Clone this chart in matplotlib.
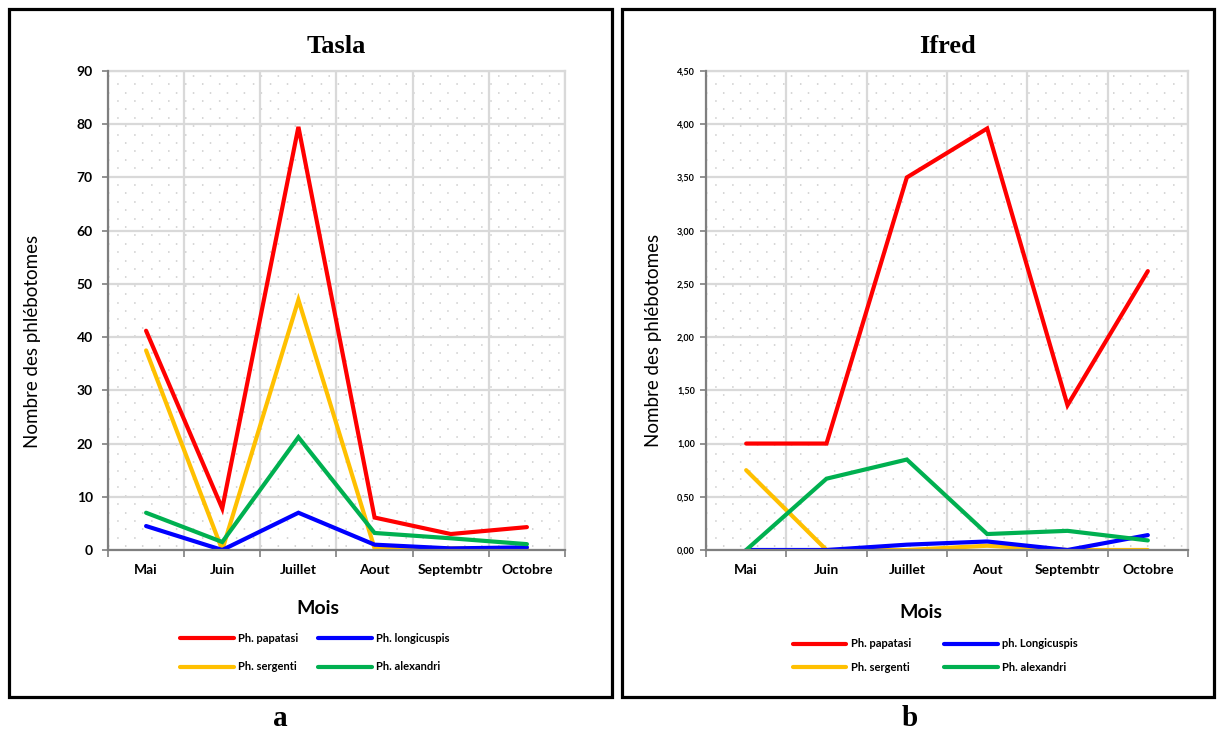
import matplotlib
matplotlib.use('Agg')
import matplotlib.pyplot as plt
from matplotlib.patches import Rectangle
from matplotlib.ticker import FixedLocator, FuncFormatter, NullFormatter
import numpy as np

# données
mois = ['Mai', 'Juin', 'Juillet', 'Aout', 'Septembtr', 'Octobre']

tasla_papatasi = [41.2, 7.8, 79.5, 6.1, 3.0, 4.3]
tasla_longicuspis = [4.5, 0.0, 7.0, 1.0, 0.3, 0.5]
tasla_sergenti = [37.5, 0.0, 47.0, 0.3, 0.3, 0.3]
tasla_alexandri = [7.0, 1.5, 21.2, 3.2, 2.2, 1.1]

ifred_papatasi = [1.00, 1.00, 3.50, 3.96, 1.36, 2.62]
ifred_longicuspis = [0.00, 0.00, 0.05, 0.08, 0.00, 0.14]
ifred_sergenti = [0.75, 0.00, 0.00, 0.04, 0.00, 0.00]
ifred_alexandri = [0.00, 0.67, 0.85, 0.15, 0.18, 0.09]

tasla_yticks = [0, 10, 20, 30, 40, 50, 60, 70, 80, 90]
ifred_yticks = [0, 0.5, 1.0, 1.5, 2.0, 2.5, 3.0, 3.5, 4.0, 4.5]

c_red = '#FF0000'
c_blue = '#0000FF'
c_yel = '#FFC000'
c_green = '#00B050'
grid_c = '#d9d9d9'
axis_c = '#7f7f7f'

W, H = 1217, 733
fig = plt.figure(figsize=(W / 100, H / 100), dpi=100)
plt.rcParams['font.family'] = ['Lato', 'DejaVu Sans']


def fx(px):
    return px / W


def fy(py):
    return 1 - py / H


# cadres
for x0, x1 in [(9, 612), (622, 1214)]:
    fig.patches.append(Rectangle((fx(x0), fy(697)), fx(x1 - x0), (697 - 9) / H,
                                 transform=fig.transFigure, fill=False,
                                 edgecolor='black', linewidth=2.3, zorder=0))


def make_panel(rect_px, title, series, yticks, fmt, ytick_size, ypad, leg):
    x0, x1, y0, y1 = rect_px
    ax = fig.add_axes([fx(x0), fy(y1), fx(x1 - x0), (y1 - y0) / H])
    n = len(mois)
    xs = np.arange(n)
    ax.set_xlim(-0.5, n - 0.5)
    ax.set_ylim(yticks[0], yticks[-1])

    # fond pointillé
    hpx = y1 - y0
    for k, r in enumerate(np.arange(4.7, hpx, 8.4)):
        off = 0 if k % 2 == 0 else 5.1
        ax.plot([0, 1], [1 - r / hpx, 1 - r / hpx], transform=ax.transAxes,
                color='#cccccc', lw=1.1, linestyle=(off, (1, 10.1)), zorder=0.5)

    for vals, col, lab in series:
        ax.plot(xs, vals, color=col, lw=3.0, label=lab, zorder=3,
                solid_capstyle='round', solid_joinstyle='miter')

    ax.set_yticks(yticks)
    ax.yaxis.set_major_formatter(FuncFormatter(fmt))
    ax.tick_params(axis='y', length=4, width=1.2, color=axis_c, pad=ypad,
                   labelsize=ytick_size)
    for t in ax.get_yticklabels():
        t.set_fontweight('bold')

    ax.xaxis.set_major_locator(FixedLocator(np.arange(-0.5, n, 1.0)))
    ax.xaxis.set_major_formatter(NullFormatter())
    ax.xaxis.set_minor_locator(FixedLocator(xs))
    ax.set_xticklabels(mois, minor=True, fontsize=10, fontweight='bold')
    ax.tick_params(axis='x', which='major', length=5, width=1.2, color=axis_c)
    ax.tick_params(axis='x', which='minor', length=0, pad=10)

    ax.grid(True, which='major', color=grid_c, lw=1.6, zorder=1)
    ax.set_axisbelow(True)
    for s in ['top', 'right']:
        ax.spines[s].set_color(grid_c)
        ax.spines[s].set_linewidth(1.6)
    for s in ['left', 'bottom']:
        ax.spines[s].set_color(axis_c)
        ax.spines[s].set_linewidth(1.6)
        ax.spines[s].set_zorder(4)

    ax.set_title(title, fontsize=19, fontweight='bold', pad=13,
                 family=['Liberation Serif'])
    ax.set_ylabel('Nombre des phlébotomes', fontsize=13.5)
    ax.set_xlabel('Mois', fontsize=14, fontweight='bold')
    ax.xaxis.label.set_va('center')
    ax.yaxis.label.set_va('center')

    lab_x, lab_y, mx, my, lx, ly, lsp, csp = leg
    ax.yaxis.set_label_coords((lab_x - x0) / (x1 - x0), 1 - (lab_y - y0) / hpx)
    ax.xaxis.set_label_coords((mx - x0) / (x1 - x0), -(my - y1) / hpx)

    # légende : 2 colonnes, remplies colonne par colonne
    fig.legend(ncol=2, handles=ax.get_lines()[-4:],
               loc='center', bbox_to_anchor=(fx(lx), fy(ly)), frameon=False,
               prop={'size': 8, 'weight': 'bold'}, handlelength=4.8,
               handletextpad=0.4, labelspacing=lsp, columnspacing=csp,
               borderpad=0)
    return ax


def fmt_int(v, p):
    return f'{v:.0f}'


def fmt_dec(v, p):
    return f'{v:.2f}'.replace('.', ',')


make_panel((108, 565, 71, 550), 'Tasla',
           [(tasla_papatasi, c_red, 'Ph. papatasi'),
            (tasla_sergenti, c_yel, 'Ph. sergenti'),
            (tasla_longicuspis, c_blue, 'Ph. longicuspis'),
            (tasla_alexandri, c_green, 'Ph. alexandri')],
           tasla_yticks, fmt_int, 10, 7,
           (33, 341, 318, 609, 315, 652.5, 1.6, 1.8))

make_panel((706, 1188, 71, 550), 'Ifred',
           [(ifred_papatasi, c_red, 'Ph. papatasi'),
            (ifred_sergenti, c_yel, 'Ph. sergenti'),
            (ifred_longicuspis, c_blue, 'ph. Longicuspis'),
            (ifred_alexandri, c_green, 'Ph. alexandri')],
           ifred_yticks, fmt_dec, 6.5, 4,
           (654, 340, 921, 612, 935.5, 655.5, 1.1, 3.0))

fig.text(fx(280), fy(726), 'a', fontsize=21, fontweight='bold',
         family=['Liberation Serif'], ha='center', va='baseline')
fig.text(fx(910), fy(726), 'b', fontsize=21, fontweight='bold',
         family=['Liberation Serif'], ha='center', va='baseline')

fig.savefig('out.png', dpi=100, facecolor='white')
